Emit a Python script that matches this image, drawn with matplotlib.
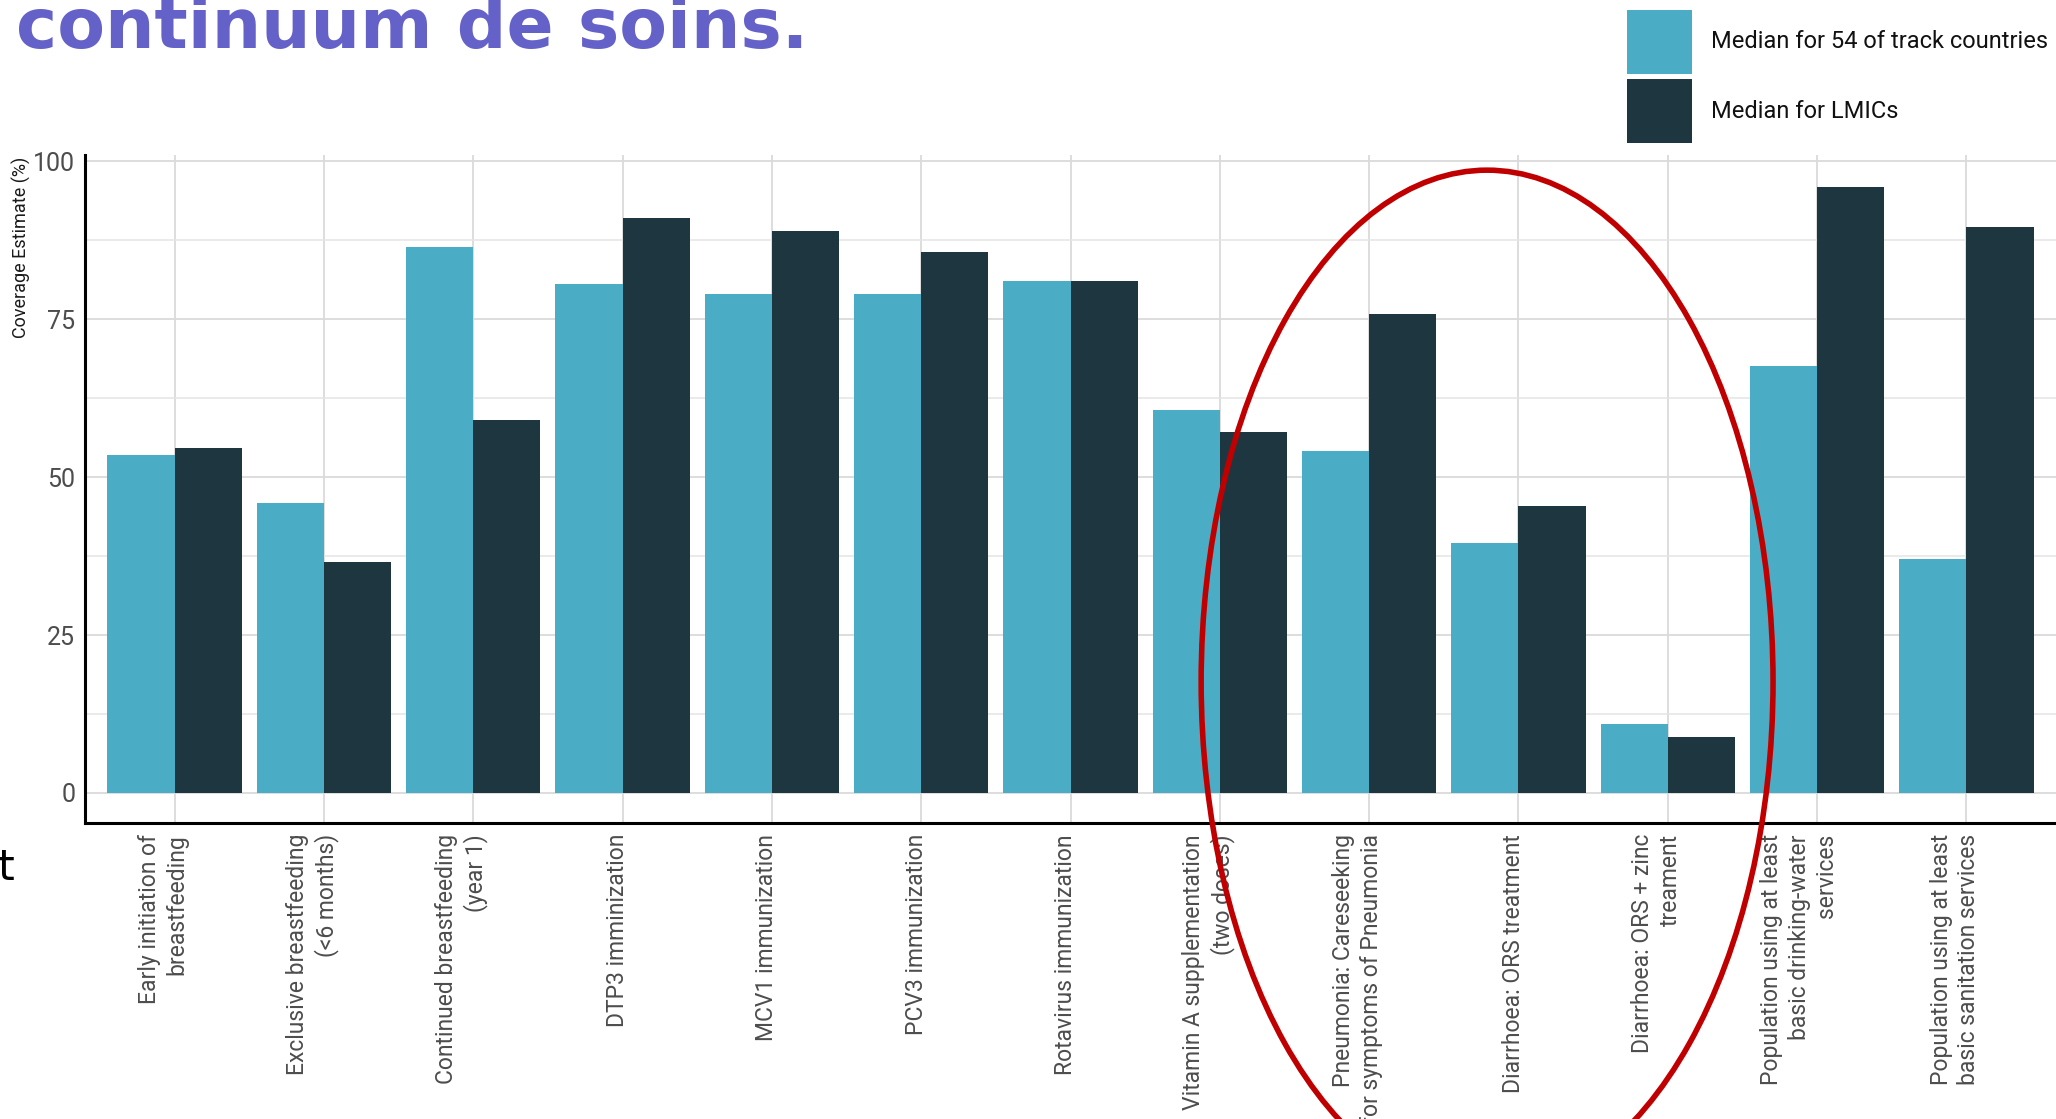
import numpy as np
import matplotlib
matplotlib.use('Agg')
import matplotlib.pyplot as plt
from matplotlib.patches import Ellipse, Patch
import matplotlib.transforms as mtransforms

categories = ['Early initiation of\nbreastfeeding',
              'Exclusive breastfeeding\n(<6 months)',
              'Continued breastfeeding\n(year 1)',
              'DTP3 imminization',
              'MCV1 immunization',
              'PCV3 immunization',
              'Rotavirus immunization',
              'Vitamin A supplementation\n(two doses)',
              'Pneumonia: Careseeking\nfor symptoms of Pneumonia',
              'Diarrhoea: ORS treatment',
              'Diarrhoea: ORS + zinc\ntreament',
              'Population using at least\nbasic drinking-water\nservices',
              'Population using at least\nbasic sanitation services']
median_track = [53.5, 45.9, 86.5, 80.5, 79.0, 79.0, 81.1, 60.6, 54.1, 39.6, 11.0, 67.6, 37.1]
median_lmic = [54.6, 36.5, 59.1, 91.1, 89.0, 85.7, 81.1, 57.1, 75.9, 45.4, 8.9, 95.9, 89.6]
legend_labels = ['Median for 54 of track countries', 'Median for LMICs']
y_ticks = [0, 25, 50, 75, 100]

c_track = '#4aacc5'
c_lmic = '#1e3640'

fig = plt.figure(figsize=(20.56, 11.19), dpi=100)
ax = fig.add_axes([85/2056, 1-823/1119, 1-85/2056, (823-155)/1119])

x = np.arange(len(categories))
w = 0.45
ax.bar(x - w/2, median_track, width=w, color=c_track, zorder=3)
ax.bar(x + w/2, median_lmic, width=w, color=c_lmic, zorder=3)

ax.set_xlim(-0.6, 12.6)
ax.set_ylim(-4.75, 101)
ax.set_yticks(y_ticks)
ax.set_yticklabels([str(v) for v in y_ticks], fontsize=18, family='Roboto', color='#4d4d4d')
ax.set_yticks([12.5, 37.5, 62.5, 87.5], minor=True)
ax.set_xticks(x)
ax.set_xticklabels(categories, rotation=90, ha='center', va='top', multialignment='right',
                   fontsize=16.5, family='Roboto', color='#4d4d4d', linespacing=1.25)
ax.tick_params(axis='both', which='both', length=0)
ax.tick_params(axis='x', pad=8)
ax.tick_params(axis='y', pad=7)

# shift rotated labels a little to the left, more for multi-line ones
for lab in ax.get_xticklabels():
    n = lab.get_text().count('\n')
    off = mtransforms.ScaledTranslation(-(5 + 6.5*n)/100, 0, fig.dpi_scale_trans)
    lab.set_transform(lab.get_transform() + off)

ax.grid(True, which='major', axis='both', color='#dadada', lw=1.3, zorder=0)
ax.grid(True, which='minor', axis='y', color='#e4e4e4', lw=1.1, zorder=0)
for s in ['top', 'right']:
    ax.spines[s].set_visible(False)
for s in ['left', 'bottom']:
    ax.spines[s].set_color('black')
    ax.spines[s].set_linewidth(2.2)

fig.text(21/2056, 1-157/1119, 'Coverage Estimate (%)', rotation=90, ha='center', va='top',
         fontsize=13, family='Roboto', color='#1a1a1a')

handles = [Patch(facecolor=c_track), Patch(facecolor=c_lmic)]
fig.legend(handles, legend_labels, loc='upper left', bbox_to_anchor=(1627/2056, 1-10/1119),
           frameon=False, borderpad=0, borderaxespad=0,
           prop={'family': 'Roboto', 'size': 17}, handlelength=2.75, handleheight=3.8,
           labelspacing=0.22, handletextpad=0.8, labelcolor='#111111')

# red ring around the pneumonia / diarrhoea group
ring = Ellipse((8.79, 17.6), width=3.83, height=162, fill=False, edgecolor='#c00000',
               lw=4, zorder=5, clip_on=False)
ax.add_patch(ring)

fig.text(16/2056, 1-48/1119, 'continuum de soins.', fontsize=50, fontweight='bold',
         color='#6461c8', ha='left', va='baseline', family='DejaVu Sans')
fig.text(-2/2056, 1-880/1119, 't', fontsize=31, color='black', ha='left', va='baseline')
fig.text(-2/2056, 1-1110/1119, 'e', fontsize=31, color='black', ha='left', va='top')

fig.savefig('out.png', dpi=100)
